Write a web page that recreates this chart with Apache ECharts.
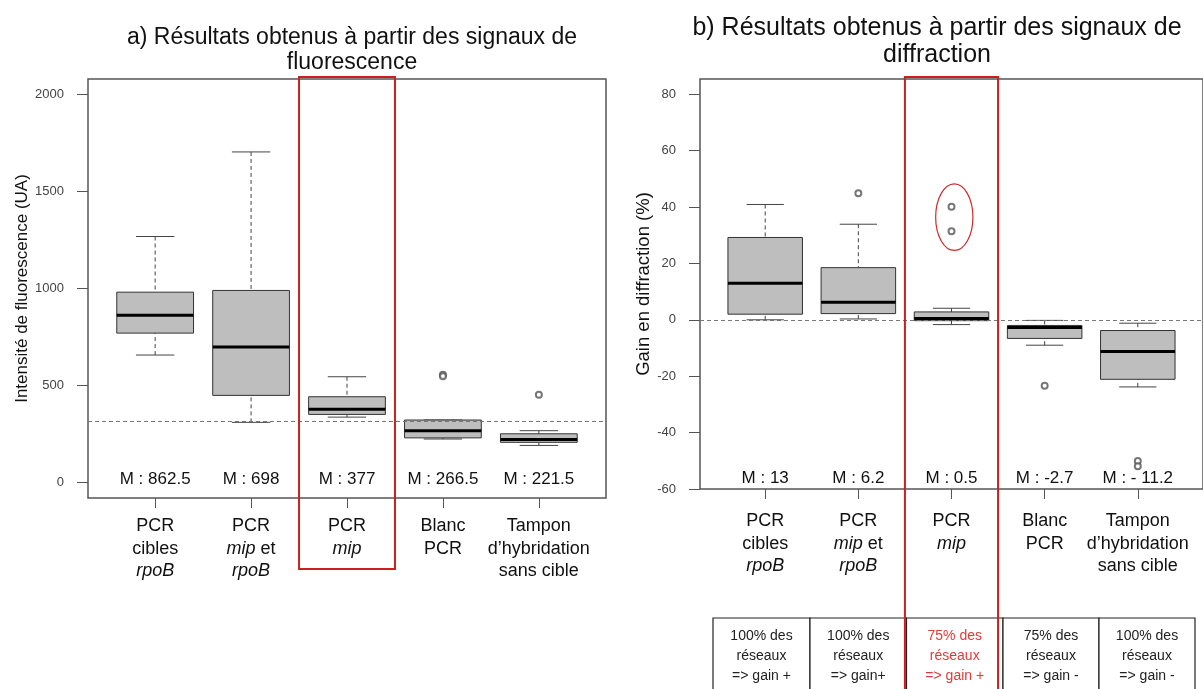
<!DOCTYPE html>
<html><head><meta charset="utf-8">
<script src="https://cdn.jsdelivr.net/npm/echarts@6/dist/echarts.min.js"></script>
<style>html,body{margin:0;padding:0;background:#fff}#c{width:1203px;height:689px}</style>
</head><body><div id="c"></div>
<script>
// ---------- data ----------
const categories = ['PCR\ncibles\n{i|rpoB}', 'PCR\n{i|mip} et\n{i|rpoB}', 'PCR\n{i|mip}', 'Blanc\nPCR', 'Tampon\nd’hybridation\nsans cible'];

const fluoLow  = [657, 310, 337, 224, 191];
const fluoQ1   = [770, 449, 351, 230, 207];
const fluoMed  = [862.5, 698, 377, 266.5, 221.5];
const fluoQ3   = [981, 990, 442, 322, 251];
const fluoHigh = [1268, 1704, 545, 322, 267];
const fluoOutliers = [[4, 555], [4, 547], [5, 452]];
const fluoThreshold = 318;
const fluoTicks = [0, 500, 1000, 1500, 2000];

const diffLow  = [0, 0.3, -1.7, -9.0, -23.8];
const diffQ1   = [2.0, 2.2, -0.3, -6.6, -21.1];
const diffMed  = [13, 6.2, 0.5, -2.7, -11.2];
const diffQ3   = [29.2, 18.5, 2.8, -2.0, -3.8];
const diffHigh = [40.9, 33.9, 4.1, -0.2, -1.2];
const diffOutliers = [[2, 44.9], [3, 40.1], [3, 31.4], [4, -23.4], [5, -50.1], [5, -51.9]];
const diffThreshold = 0;
const diffTicks = [-60, -40, -20, 0, 20, 40, 60, 80];

const medianLabels = ['M : 862.5', 'M : 698', 'M : 377', 'M : 266.5', 'M : 221.5'];
const diffMedianLabels = ['M : 13', 'M : 6.2', 'M : 0.5', 'M : -2.7', 'M : - 11.2'];

const tableCells = ['100% des\nréseaux\n=> gain +', '100% des\nréseaux\n=> gain+', '75% des\nréseaux\n=> gain +', '75% des\nréseaux\n=> gain -', '100% des\nréseaux\n=> gain -'];
const highlightIndex = 3;

// ---------- helpers ----------
const FONT = 'Liberation Sans, Arial, sans-serif';
const positions = categories.map((c, k) => k + 1);

function boxData(low, q1, med, q3, high) {
  return positions.map((x, k) => [x, low[k], q1[k], med[k], q3[k], high[k]]);
}

function renderBox(params, api) {
  const x = api.value(0);
  const hw = 0.4, cw = 0.2;
  const lo = api.value(1), q1 = api.value(2), md = api.value(3), q3 = api.value(4), hi = api.value(5);
  const pQ3L = api.coord([x - hw, q3]);
  const pQ1R = api.coord([x + hw, q1]);
  const pMdL = api.coord([x - hw, md]);
  const pMdR = api.coord([x + hw, md]);
  const pHi = api.coord([x, hi]);
  const pLo = api.coord([x, lo]);
  const pQ3 = api.coord([x, q3]);
  const pQ1 = api.coord([x, q1]);
  const cL = api.coord([x - cw, hi])[0];
  const cR = api.coord([x + cw, hi])[0];
  const wStyle = {stroke: '#444', lineWidth: 1, lineDash: [4, 3]};
  const sStyle = {stroke: '#444', lineWidth: 1};
  return {
    type: 'group',
    children: [
      {type: 'line', shape: {x1: pHi[0], y1: pHi[1], x2: pQ3[0], y2: pQ3[1]}, style: wStyle},
      {type: 'line', shape: {x1: pLo[0], y1: pLo[1], x2: pQ1[0], y2: pQ1[1]}, style: wStyle},
      {type: 'line', shape: {x1: cL, y1: pHi[1], x2: cR, y2: pHi[1]}, style: sStyle},
      {type: 'line', shape: {x1: cL, y1: pLo[1], x2: cR, y2: pLo[1]}, style: sStyle},
      {type: 'rect', shape: {x: pQ3L[0], y: pQ3L[1], width: pQ1R[0] - pQ3L[0], height: pQ1R[1] - pQ3L[1]},
        style: {fill: '#bebebe', stroke: '#333', lineWidth: 1}},
      {type: 'line', shape: {x1: pMdL[0], y1: pMdL[1], x2: pMdR[0], y2: pMdR[1]}, style: {stroke: '#000', lineWidth: 3}}
    ]
  };
}

function medianTextSeries(xi, yi, labels, offset) {
  return {
    type: 'custom', xAxisIndex: xi, yAxisIndex: yi, silent: true, z: 5,
    data: positions.map((x, k) => [x, k]),
    renderItem: function (params, api) {
      const p = api.coord([api.value(0), 0]);
      const cs = params.coordSys;
      return {type: 'text', style: {text: labels[api.value(1)], x: p[0], y: cs.y + cs.height - offset,
        align: 'center', verticalAlign: 'middle', font: '17px ' + FONT, fill: '#111'}};
    }
  };
}

function redRectSeries(xi, yi, bottomPx) {
  return {
    type: 'custom', xAxisIndex: xi, yAxisIndex: yi, silent: true, z: 10, clip: false,
    data: [[highlightIndex]],
    renderItem: function (params, api) {
      const x = api.value(0);
      const l = api.coord([x - 0.5, 0])[0];
      const r = api.coord([x + 0.5, 0])[0];
      const cs = params.coordSys;
      return {type: 'rect', shape: {x: l, y: cs.y - 2, width: r - l, height: bottomPx - (cs.y - 2)},
        style: {fill: 'none', stroke: '#cc1f1f', lineWidth: 2}};
    }
  };
}

function xAxisCfg(gi, margin) {
  return {
    type: 'value', gridIndex: gi, min: 0.3, max: 5.7,
    axisLine: {show: false, onZero: false},
    axisTick: {show: true, customValues: positions, length: 10, lineStyle: {color: '#555', width: 1}},
    axisLabel: {
      show: true, customValues: positions,
      formatter: function (v) { return categories[Math.round(v) - 1] || ''; },
      fontFamily: FONT, fontSize: 18, color: '#111', lineHeight: 22.5, margin: margin,
      rich: {i: {fontStyle: 'italic', fontFamily: FONT, fontSize: 18, color: '#111', lineHeight: 22.5}}
    },
    splitLine: {show: false}
  };
}

function yAxisCfg(gi, min, max, ticks, name, gap, nameSize) {
  return {
    type: 'value', gridIndex: gi, min: min, max: max,
    name: name, nameLocation: 'middle', nameGap: gap, nameRotate: 90,
    nameTextStyle: {fontFamily: FONT, fontSize: nameSize, color: '#111'},
    axisLine: {show: false, onZero: false},
    axisTick: {show: true, customValues: ticks, length: 11, lineStyle: {color: '#555', width: 1}},
    axisLabel: {show: true, customValues: ticks, formatter: function (v) { return String(v); },
      fontFamily: FONT, fontSize: 13, color: '#444', margin: 24},
    splitLine: {show: false}
  };
}

// ---------- table graphics ----------
const tableEdges = [713, 810, 906.5, 1003, 1099, 1195];
const tableTop = 618, tableBottom = 700;
const tableGraphics = [];
tableCells.forEach((t, k) => {
  const x0 = tableEdges[k], x1 = tableEdges[k + 1];
  tableGraphics.push({type: 'rect', shape: {x: x0, y: tableTop, width: x1 - x0, height: tableBottom - tableTop},
    style: {fill: '#fff', stroke: '#222', lineWidth: 1.2}, z: 1});
  tableGraphics.push({type: 'text', x: (x0 + x1) / 2, y: tableTop + 38, z: 2,
    style: {text: t, font: '14px ' + FONT, fill: k === highlightIndex - 1 ? '#e03a3a' : '#222',
      align: 'center', verticalAlign: 'middle', lineHeight: 20.3}});
});

const chart = echarts.init(document.getElementById('c'), null, {renderer: 'canvas'});
chart.setOption({
  animation: false,
  backgroundColor: '#fff',
  title: [
    {text: 'a) Résultats obtenus à partir des signaux de\nfluorescence', left: 347, top: 20, textAlign: 'center',
      textStyle: {fontFamily: FONT, fontSize: 23, fontWeight: 'normal', color: '#111', lineHeight: 25}},
    {text: 'b) Résultats obtenus à partir des signaux de\ndiffraction', left: 932, top: 10, textAlign: 'center',
      textStyle: {fontFamily: FONT, fontSize: 25, fontWeight: 'normal', color: '#111', lineHeight: 27}}
  ],
  grid: [
    {left: 88, top: 79, width: 518, height: 419, show: true, borderColor: '#555', borderWidth: 1.5, backgroundColor: 'transparent'},
    {left: 700, top: 79, width: 509, height: 410, show: true, borderColor: '#555', borderWidth: 1.5, backgroundColor: 'transparent'}
  ],
  xAxis: [xAxisCfg(0, 17), xAxisCfg(1, 21)],
  yAxis: [
    yAxisCfg(0, -80, 2080, fluoTicks, 'Intensité de fluorescence (UA)', 52, 17),
    yAxisCfg(1, -60, 85.4, diffTicks, 'Gain en diffraction (%)', 38, 18.5)
  ],
  series: [
    {type: 'custom', xAxisIndex: 0, yAxisIndex: 0, renderItem: renderBox, data: boxData(fluoLow, fluoQ1, fluoMed, fluoQ3, fluoHigh), z: 3,
      markLine: {silent: true, symbol: 'none', label: {show: false}, lineStyle: {color: '#777', type: [4, 3], width: 1}, data: [{yAxis: fluoThreshold}]}},
    {type: 'scatter', xAxisIndex: 0, yAxisIndex: 0, data: fluoOutliers, symbol: 'emptyCircle', symbolSize: 6,
      itemStyle: {color: '#555', borderWidth: 1}, z: 4},
    medianTextSeries(0, 0, medianLabels, 19),
    redRectSeries(0, 0, 569),
    {type: 'custom', xAxisIndex: 1, yAxisIndex: 1, renderItem: renderBox, data: boxData(diffLow, diffQ1, diffMed, diffQ3, diffHigh), z: 3,
      markLine: {silent: true, symbol: 'none', label: {show: false}, lineStyle: {color: '#777', type: [4, 3], width: 1}, data: [{yAxis: diffThreshold}]}},
    {type: 'scatter', xAxisIndex: 1, yAxisIndex: 1, data: diffOutliers, symbol: 'emptyCircle', symbolSize: 6,
      itemStyle: {color: '#555', borderWidth: 1}, z: 4},
    medianTextSeries(1, 1, diffMedianLabels, 11),
    {type: 'custom', xAxisIndex: 1, yAxisIndex: 1, silent: true, z: 6, clip: false,
      data: [[3.03, 36.4]],
      renderItem: function (params, api) {
        const c = api.coord([api.value(0), api.value(1)]);
        const top = api.coord([api.value(0), 48.2]);
        const rx = api.size([0.4, 0])[0] / 2;
        return {type: 'ellipse', shape: {cx: c[0], cy: c[1], rx: rx, ry: c[1] - top[1]},
          style: {fill: 'none', stroke: '#cc2a2a', lineWidth: 1.2}};
      }},
    redRectSeries(1, 1, 700)
  ],
  graphic: tableGraphics
});
</script>
</body></html>
